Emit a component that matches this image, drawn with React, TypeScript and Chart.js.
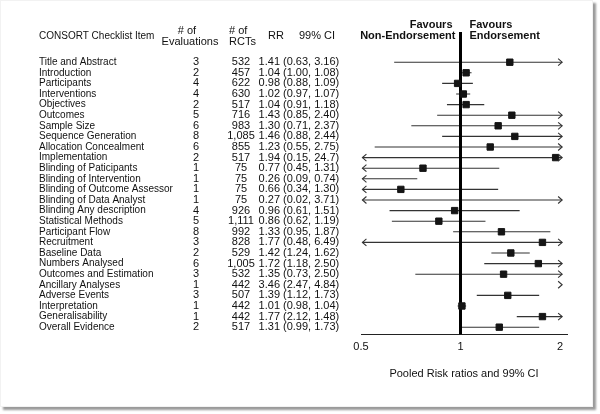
import React, { useEffect, useRef } from "react";
import { Chart, registerables } from "chart.js";

Chart.register(...registerables);

const items = [
  "Title and Abstract",
  "Introduction",
  "Participants",
  "Interventions",
  "Objectives",
  "Outcomes",
  "Sample Size",
  "Sequence Generation",
  "Allocation Concealment",
  "Implementation",
  "Blinding of Paticipants",
  "Blinding of Intervention",
  "Blinding of Outcome Assessor",
  "Blinding of Data Analyst",
  "Blinding Any description",
  "Statistical Methods",
  "Participant Flow",
  "Recruitment",
  "Baseline Data",
  "Numbers Analysed",
  "Outcomes and Estimation",
  "Ancillary Analyses",
  "Adverse Events",
  "Interpretation",
  "Generalisability",
  "Overall Evidence",
];
const evaluations = [3, 2, 4, 4, 2, 5, 6, 8, 6, 2, 1, 1, 1, 1, 4, 5, 8, 3, 2, 6, 3, 1, 3, 1, 1, 2];
const rcts = [532, 457, 622, 630, 517, 716, 983, 1085, 855, 517, 75, 75, 75, 75, 926, 1111, 992, 828, 529, 1005, 532, 442, 507, 442, 442, 517];
const rr = [1.41, 1.04, 0.98, 1.02, 1.04, 1.43, 1.3, 1.46, 1.23, 1.94, 0.77, 0.26, 0.66, 0.27, 0.96, 0.86, 1.33, 1.77, 1.42, 1.72, 1.35, 3.46, 1.39, 1.01, 1.77, 1.31];
const ciLow = [0.63, 1.0, 0.88, 0.97, 0.91, 0.85, 0.71, 0.88, 0.55, 0.15, 0.45, 0.09, 0.34, 0.02, 0.61, 0.62, 0.95, 0.48, 1.24, 1.18, 0.73, 2.47, 1.12, 0.98, 2.12, 0.99];
const ciHigh = [3.16, 1.08, 1.09, 1.07, 1.18, 2.4, 2.37, 2.44, 2.75, 24.7, 1.31, 0.74, 1.3, 3.71, 1.51, 1.19, 1.87, 6.49, 1.62, 2.5, 2.5, 4.84, 1.73, 1.04, 1.48, 1.73];
const xTicks = [0.5, 1, 2];

const X_MIN = 0.5;
const X_MAX = 2.1;
const TICK_MAX = 2;
const ARROW_LEFT = 0.505;
const ARROW_RIGHT = 2.03;
const NULL_VALUE = 1;

const FONT = "'Liberation Sans', Arial, sans-serif";

const fmt = (v: number) => (v >= 10 ? v.toFixed(1) : v.toFixed(2));
const ciText = (i: number) => `(${fmt(ciLow[i])}, ${fmt(ciHigh[i])})`;
const lo = (i: number) => Math.min(ciLow[i], ciHigh[i]);
const hi = (i: number) => Math.max(ciLow[i], ciHigh[i]);

const tablePlugin = {
  id: "forestTable",
  afterDatasetsDraw(chart: any) {
    const ctx = chart.ctx as CanvasRenderingContext2D;
    const ys = chart.scales.y;
    const xs = chart.scales.x;
    ctx.save();
    ctx.strokeStyle = "#333";
    ctx.lineWidth = 1.1;
    items.forEach((_, i) => {
      const py = ys.getPixelForValue(i);
      if (hi(i) > TICK_MAX) {
        const tx = xs.getPixelForValue(ARROW_RIGHT);
        ctx.beginPath();
        ctx.moveTo(tx - 4, py - 3.5);
        ctx.lineTo(tx, py);
        ctx.lineTo(tx - 4, py + 3.5);
        ctx.stroke();
      }
      if (lo(i) < X_MIN) {
        const tx = xs.getPixelForValue(ARROW_LEFT);
        ctx.beginPath();
        ctx.moveTo(tx + 4, py - 3.5);
        ctx.lineTo(tx, py);
        ctx.lineTo(tx + 4, py + 3.5);
        ctx.stroke();
      }
    });
    ctx.restore();
  },
  afterDraw(chart: any) {
    const ctx = chart.ctx as CanvasRenderingContext2D;
    const ys = chart.scales.y;
    const xs = chart.scales.x;
    ctx.save();
    ctx.fillStyle = "#111";
    ctx.textBaseline = "middle";
    const row0 = ys.getPixelForValue(0);
    const h1 = row0 - 31;
    const h2 = row0 - 20;
    const hm = row0 - 26;
    ctx.font = `10px ${FONT}`;
    ctx.textAlign = "left";
    ctx.fillText("CONSORT Checklist Item", 39, hm);
    ctx.font = `11px ${FONT}`;
    ctx.textAlign = "center";
    ctx.fillText("# of", 187, h1);
    ctx.fillText("Evaluations", 190, h2);
    ctx.textAlign = "left";
    ctx.fillText("# of", 229, h1);
    ctx.fillText("RCTs", 229, h2);
    ctx.textAlign = "center";
    ctx.fillText("RR", 276, hm);
    ctx.fillText("99% CI", 317, hm);

    items.forEach((name, i) => {
      const py = ys.getPixelForValue(i);
      ctx.font = `10px ${FONT}`;
      ctx.textAlign = "left";
      ctx.fillText(name, 39, py);
      ctx.font = `11px ${FONT}`;
      ctx.textAlign = "center";
      ctx.fillText(String(evaluations[i]), 196, py);
      ctx.fillText(rcts[i].toLocaleString("en-US"), 241, py);
      ctx.textAlign = "right";
      ctx.fillText(rr[i].toFixed(2), 280, py);
      ctx.textAlign = "left";
      ctx.fillText(ciText(i), 283, py);
    });

    const x1 = xs.getPixelForValue(NULL_VALUE);
    ctx.font = `bold 11px ${FONT}`;
    ctx.textAlign = "right";
    ctx.fillText("Favours", x1 - 8, 25);
    ctx.fillText("Non-Endorsement", x1 - 5, 36);
    ctx.textAlign = "left";
    ctx.fillText("Favours", x1 + 9, 25);
    ctx.fillText("Endorsement", x1 + 9, 36);
    ctx.restore();
  },
};

export default function App() {
  const ref = useRef<HTMLCanvasElement>(null);
  useEffect(() => {
    document.body.style.margin = "0";
    const canvas = ref.current;
    if (!canvas) return;

    const ciDatasets = items
      .map((_, i) => i)
      .filter((i) => lo(i) <= ARROW_RIGHT && hi(i) >= ARROW_LEFT)
      .map((i) => ({
        type: "scatter" as const,
        data: [
          { x: Math.max(lo(i), ARROW_LEFT), y: i },
          { x: Math.min(hi(i), ARROW_RIGHT), y: i },
        ],
        showLine: true,
        borderColor: "#333",
        borderWidth: 1.1,
        pointRadius: 0,
        order: 3,
      }));

    const squares = {
      type: "scatter" as const,
      data: items
        .map((_, i) => ({ x: rr[i], y: i }))
        .filter((p) => p.x >= X_MIN && p.x <= X_MAX),
      pointStyle: "rect" as const,
      pointRadius: 4.5,
      backgroundColor: "#151515",
      borderColor: "#151515",
      borderWidth: 1,
      order: 0,
    };

    const refLine = {
      type: "scatter" as const,
      data: [
        { x: NULL_VALUE, y: -2.85 },
        { x: NULL_VALUE, y: 25.7 },
      ],
      showLine: true,
      borderColor: "#000",
      borderWidth: 3,
      pointRadius: 0,
      order: 1,
    };

    const chart = new Chart(canvas, {
      type: "scatter",
      data: { datasets: [squares, refLine, ...ciDatasets] as any },
      options: {
        animation: false,
        responsive: false,
        events: [],
        layout: { padding: { left: 361, right: 33, top: 32, bottom: 33 } },
        plugins: { legend: { display: false }, tooltip: { enabled: false } },
        scales: {
          x: {
            type: "logarithmic",
            min: X_MIN,
            max: X_MAX,
            afterBuildTicks: (scale: any) => {
              scale.ticks = xTicks.map((v) => ({ value: v }));
            },
            grid: { display: false, drawTicks: false },
            border: { display: true, color: "#222", width: 1 },
            ticks: {
              padding: 6,
              color: "#111",
              font: { family: FONT, size: 11 },
              maxRotation: 0,
              autoSkip: false,
              callback: (v: any) => String(v),
            },
            title: {
              display: true,
              text: "Pooled Risk ratios and 99% CI",
              color: "#111",
              font: { family: FONT, size: 11 },
              padding: { top: 8, bottom: 0 },
            },
          },
          y: {
            type: "linear",
            min: -2.85,
            max: 25.7,
            reverse: true,
            display: false,
          },
        },
      },
      plugins: [tablePlugin],
    });
    return () => chart.destroy();
  }, []);

  return (
    <div style={{ position: "relative", width: 600, height: 414, background: "#fff" }}>
      <div
        style={{
          position: "absolute",
          left: 0,
          top: 0,
          width: 591,
          height: 405,
          border: "1px solid #f2f2f2",
          boxShadow: "3px 3px 2px #9a9a9a",
          background: "#fff",
        }}
      />
      <canvas
        ref={ref}
        width={600}
        height={414}
        style={{ position: "absolute", left: 0, top: 0, width: 600, height: 414 }}
      />
    </div>
  );
}
